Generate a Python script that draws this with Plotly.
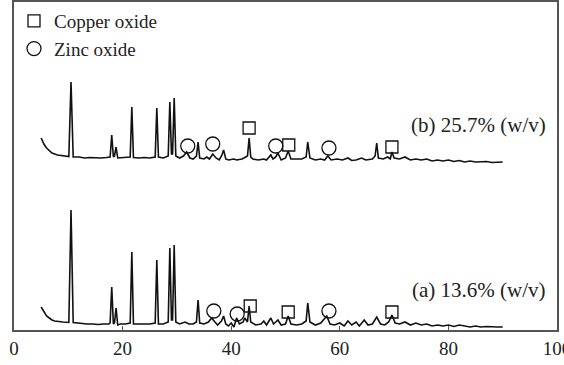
import plotly.graph_objects as go

# ---- data (2-theta, intensity in arbitrary units) ----
a_x = [5.0, 5.5, 6.0, 6.5, 7.0, 7.5, 8.0, 9.0, 10.1, 10.5, 10.9, 11.5, 12.5, 13.5, 14.5, 15.5, 16.5, 17.5,
       17.7, 18.0, 18.3, 18.5, 18.8, 19.1, 19.6, 20.5, 21.4, 21.7, 22.0, 23, 24, 25, 26.0, 26.3, 26.6, 27.5,
       28.4, 28.7, 29.0, 29.2, 29.5, 29.8, 30.5, 31.5, 32.2, 33.0, 33.6, 33.9, 34.2, 35, 35.8, 36.4, 37, 37.5,
       38.2, 38.6, 39, 39.5, 40, 40.5, 41, 41.5, 42.2, 42.5, 43.0, 43.3, 43.6, 44.5, 45.5, 46, 46.5, 47.3,
       47.8, 48.6, 49.2, 50.0, 50.5, 51.0, 52, 53, 53.8, 54.1, 54.5, 55.5, 56.5, 57.6, 58.2, 59, 60, 60.8,
       61.5, 62.2, 63, 63.6, 64.5, 65.2, 66, 66.8, 67.5, 68.3, 69.0, 69.6, 70.2, 71, 72, 73, 74, 75, 76, 77,
       78, 79, 80, 81, 82, 83, 84, 85, 86, 87, 88, 89, 90]
a_y = [23, 18, 14, 12, 10, 9, 8.5, 8, 7.5, 120, 7.5, 7, 6.5, 6, 6, 5.5, 6, 6,
       7, 43, 6, 7, 22, 5, 6, 6, 7, 78, 6, 6, 5.5, 6, 7, 70, 6, 6,
       8, 82, 10, 10, 85, 8, 6, 8, 6, 6, 8, 30, 7, 6, 8, 12, 8, 5,
       9, 14, 6, 4, 7, 3, 12, 6, 8, 12, 8, 24, 8, 5, 6, 9, 5, 12,
       6, 10, 5, 6, 14, 6, 5, 6, 9, 27, 8, 5, 7, 14, 6, 5, 7, 4,
       9, 5, 8, 4, 10, 5, 6, 13, 6, 5, 8, 15, 7, 6, 8, 5, 7, 5, 6, 4,
       5, 4, 5, 3.5, 5, 4, 3, 4, 3, 3.5, 3, 3, 3]

b_x = [5.0, 5.5, 6.0, 6.5, 7.0, 8.0, 9.0, 10.1, 10.5, 10.9, 12, 13, 14, 15, 16, 17, 17.7, 18.0, 18.3,
       18.5, 18.8, 19.1, 20, 21.4, 21.7, 22.0, 23, 24, 25, 26, 26.3, 26.6, 27.5, 28.4, 28.7, 29.0, 29.2,
       29.5, 29.8, 30.5, 31.2, 31.8, 32.4, 33, 33.6, 33.9, 34.2, 35, 35.5, 36.0, 36.6, 37.2, 37.8, 38.3,
       38.6, 39.0, 39.5, 40.5, 41, 42, 43.0, 43.3, 43.6, 44, 45, 46, 46.5, 47.3, 47.7, 48.2, 48.6, 49.2,
       50.0, 50.5, 51.0, 52, 53, 53.8, 54.1, 54.5, 55.5, 56.5, 57.2, 57.8, 58.4, 59.5, 60.5, 61.5, 62.2,
       63, 64, 64.8, 66.0, 66.5, 66.8, 67.1, 68, 68.8, 69.3, 69.6, 70.0, 71, 72, 73, 74, 75, 76, 77, 78,
       79, 80, 81, 82, 83, 84, 85, 86, 87, 88, 89, 90]
b_y = [192, 186, 182, 179, 177, 175, 174, 173.5, 248, 173, 173, 172, 172.5, 172, 172, 172.5, 173, 195, 173,
       174, 183, 172, 172.5, 173, 223, 172.5, 172, 172.5, 172, 173, 222, 173, 172, 174, 228, 176, 176,
       232, 174, 172, 174, 178, 172, 171, 174, 188, 172, 171, 173, 171, 176, 172, 170, 175,
       180, 171, 170, 171, 170, 171, 174, 192, 173, 171, 170, 171, 170, 175, 171, 173, 177, 170,
       172, 179, 171, 171, 171, 173, 188, 172, 170, 171, 170, 174, 170, 171, 170, 172, 169.5,
       170, 172, 170, 171, 174, 187, 172, 171, 173, 171, 178, 172, 171, 173, 170, 171, 170, 171, 169, 170,
       169, 170, 168.5, 169.5, 168, 169, 168, 168, 168.5, 167.5, 168, 168]

copper_x = [43.3, 50.6, 69.6, 43.5, 50.5, 69.6]
copper_y = [202, 185, 183, 24, 18, 18]
zinc_x = [32.0, 36.6, 48.2, 58.0, 36.8, 41.1, 58.0]
zinc_y = [184, 186, 184, 182, 19, 16, 19]

x_ticks = [0, 20, 40, 60, 80, 100]
labels = ["(b) 25.7% (w/v)", "(a) 13.6% (w/v)"]
label_y = [205, 40]

FONT = "Liberation Serif"

fig = go.Figure()
for xs, ys in [(a_x, a_y), (b_x, b_y)]:
    fig.add_trace(go.Scatter(x=xs, y=ys, mode="lines", line=dict(color="#111", width=1.6),
                             showlegend=False, hoverinfo="skip"))

fig.add_trace(go.Scatter(x=copper_x, y=copper_y, mode="markers", name="Copper oxide",
                         marker=dict(symbol="square-open", size=12, color="#111", line=dict(width=1.3))))
fig.add_trace(go.Scatter(x=zinc_x, y=zinc_y, mode="markers", name="Zinc oxide",
                         marker=dict(symbol="circle-open", size=14, color="#111", line=dict(width=1.3))))

for t, yv in zip(labels, label_y):
    fig.add_annotation(x=0.983, xref="paper", y=yv, yref="y", text=t, showarrow=False,
                       xanchor="right", yanchor="middle", font=dict(family=FONT, size=21, color="#222"))

fig.update_layout(
    width=564, height=365,
    margin=dict(l=14, r=7, t=2, b=35, autoexpand=False),
    paper_bgcolor="white", plot_bgcolor="white",
    font=dict(family=FONT, size=19, color="#222"),
    legend=dict(x=0.0, y=1.0, xanchor="left", yanchor="top", bgcolor="rgba(0,0,0,0)",
                font=dict(family=FONT, size=19, color="#222"), tracegroupgap=0),
    xaxis=dict(range=[0, 100], tickvals=x_ticks, ticks="inside", ticklen=4, tickcolor="#555",
               showline=True, linecolor="#555", linewidth=1.5, mirror=True, showgrid=False,
               zeroline=False, ticklabeloverflow="allow", automargin=False,
               tickfont=dict(family=FONT, size=19, color="#222")),
    yaxis=dict(range=[0, 328], showticklabels=False, ticks="", showline=True, linecolor="#555",
               linewidth=1.5, mirror=True, showgrid=False, zeroline=False, automargin=False),
)

fig.write_html("out.html")
